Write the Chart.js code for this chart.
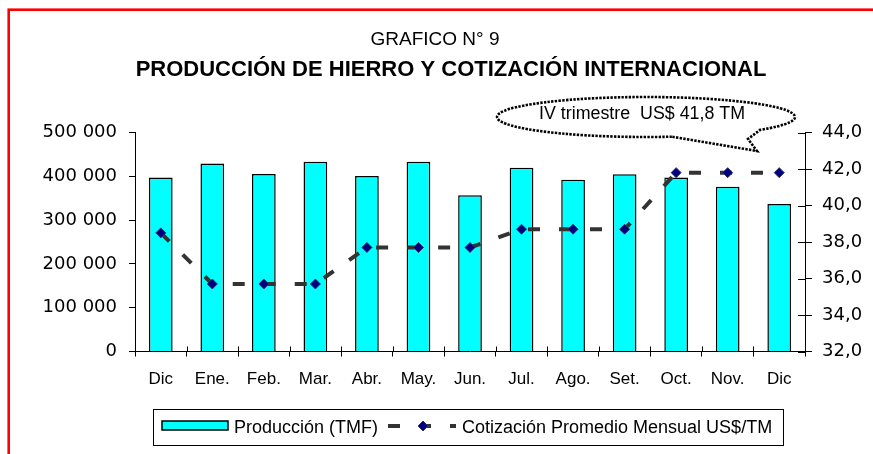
<!DOCTYPE html>
<html><head><meta charset="utf-8">
<script src="https://cdn.jsdelivr.net/npm/chart.js@4.4.1/dist/chart.umd.min.js"></script>
<style>html,body{margin:0;padding:0;background:#fff;overflow:hidden}canvas{display:block}</style>
</head><body>
<canvas id="c" width="873" height="454"></canvas>
<script>
const categories = ["Dic", "Ene.", "Feb.", "Mar.", "Abr.", "May.", "Jun.", "Jul.", "Ago.", "Set.", "Oct.", "Nov.", "Dic"];
const produccion = [397000, 429000, 405000, 433000, 400500, 433000, 356500, 419500, 392000, 404500, 397000, 376000, 336500];
const cotizacion = [38.5, 35.7, 35.7, 35.7, 37.7, 37.7, 37.7, 38.7, 38.7, 38.7, 41.8, 41.8, 41.8];
const leftTickRange = [0, 500000, 100000];
const rightTickRange = [32, 44, 2];
const titleText = "GRAFICO N° 9";
const subtitleText = "PRODUCCIÓN DE HIERRO Y COTIZACIÓN INTERNACIONAL";
const calloutText = "IV trimestre  US$ 41,8 TM";
const seriesNames = ["Producción (TMF)", "Cotización Promedio Mensual US$/TM"];

const SANS = "'Liberation Sans', Arial, sans-serif";

function fmtThousands(v) { return String(v).replace(/\B(?=(\d{3})+(?!\d))/g, ' '); }
function fmtDecimal(v) { return Number(v).toFixed(1).replace('.', ','); }

const decorPlugin = {
  id: 'decor',
  afterDraw(chart) {
    const ctx = chart.ctx;
    const x = chart.scales.x, y1 = chart.scales.y1;
    ctx.save();
    // inner halves of crossing tick marks
    ctx.strokeStyle = '#000'; ctx.lineWidth = 1;
    ctx.beginPath();
    for (let i = 1; i < categories.length; i++) {
      const px = Math.round(x.getPixelForValue(i - 0.5)) + 0.5;
      ctx.moveTo(px, x.top - 5); ctx.lineTo(px, x.top);
    }
    for (let v = rightTickRange[0]; v <= rightTickRange[1]; v += rightTickRange[2]) {
      const py = Math.round(y1.getPixelForValue(v)) + 0.5;
      ctx.moveTo(y1.left - 7, py); ctx.lineTo(y1.left, py);
    }
    ctx.stroke();

    // red frame
    ctx.strokeStyle = '#ff0000'; ctx.lineWidth = 2.6;
    ctx.strokeRect(8.7, 9.7, 1000, 1000);

    // titles
    ctx.fillStyle = '#000'; ctx.textAlign = 'center'; ctx.textBaseline = 'alphabetic';
    ctx.font = "19px " + SANS;
    ctx.fillText(titleText, 435, 45);
    ctx.font = "bold 22px " + SANS;
    ctx.fillText(subtitleText, 451, 76);

    // callout
    const cx = 646, cy = 117, rx = 149, ry = 20;
    const a0 = 80 * Math.PI / 180, a1 = (360 + 40) * Math.PI / 180;
    ctx.beginPath();
    ctx.ellipse(cx, cy, rx, ry, 0, a0, a1, false);
    ctx.lineTo(748, 139);
    ctx.lineTo(757, 151);
    ctx.closePath();
    ctx.fillStyle = '#fff'; ctx.fill();
    ctx.setLineDash([2.4, 1.3]);
    ctx.strokeStyle = '#000'; ctx.lineWidth = 2.6;
    ctx.stroke();
    ctx.setLineDash([]);
    ctx.fillStyle = '#000';
    ctx.font = "18px 'Liberation Sans Narrow', 'Arial Narrow', " + SANS;
    const tw = ctx.measureText(calloutText).width;
    ctx.save();
    ctx.translate(642, 118.5);
    ctx.scale(206 / tw, 1);
    ctx.textAlign = 'center';
    ctx.fillText(calloutText, 0, 0);
    ctx.restore();

    // legend
    ctx.strokeStyle = '#000'; ctx.lineWidth = 1;
    ctx.strokeRect(153.5, 409.5, 630, 36);
    ctx.fillStyle = '#00ffff';
    ctx.fillRect(162, 421, 66, 9);
    ctx.lineWidth = 1.5;
    ctx.strokeRect(162, 421, 66, 9);
    ctx.fillStyle = '#000';
    ctx.font = "18px " + SANS;
    ctx.textAlign = 'left';
    ctx.fillText(seriesNames[0], 234, 433);
    // line sample
    ctx.strokeStyle = '#333333'; ctx.lineWidth = 4;
    ctx.setLineDash([12, 19]);
    ctx.beginPath(); ctx.moveTo(388, 426); ctx.lineTo(456, 426); ctx.stroke();
    ctx.setLineDash([]);
    ctx.beginPath();
    ctx.moveTo(423, 421); ctx.lineTo(428, 426); ctx.lineTo(423, 431); ctx.lineTo(418, 426); ctx.closePath();
    ctx.fillStyle = '#000080'; ctx.fill();
    ctx.strokeStyle = '#333366'; ctx.lineWidth = 1; ctx.stroke();
    ctx.fillStyle = '#000';
    ctx.fillText(seriesNames[1], 462, 433);
    ctx.restore();
  }
};

new Chart(document.getElementById('c'), {
  data: {
    labels: categories,
    datasets: [
      {
        type: 'line', label: seriesNames[1], data: cotizacion, yAxisID: 'y1', order: 1,
        borderColor: '#333333', borderWidth: 4, borderDash: [12, 19], fill: false, tension: 0,
        pointStyle: 'rectRot', pointRadius: 5, pointBackgroundColor: '#000080',
        pointBorderColor: '#333366', pointBorderWidth: 1
      },
      {
        type: 'bar', label: seriesNames[0], data: produccion, yAxisID: 'y', order: 2,
        backgroundColor: '#00ffff', borderColor: '#000', borderWidth: 1.5,
        barPercentage: 0.46, categoryPercentage: 1
      }
    ]
  },
  options: {
    responsive: false, animation: false, devicePixelRatio: 1,
    layout: { padding: { top: 132.5, bottom: 62.5, left: 0, right: 0 } },
    plugins: { legend: { display: false }, title: { display: false }, tooltip: { enabled: false } },
    scales: {
      x: {
        offset: true,
        grid: { offset: true, drawOnChartArea: false, drawTicks: true, tickLength: 5, color: '#000', lineWidth: 1 },
        border: { color: '#000', width: 1 },
        ticks: { color: '#000', font: { family: SANS, size: 17 }, padding: 13, maxRotation: 0, autoSkip: false },
        afterFit: s => { s.height = 40; }
      },
      y: {
        position: 'left', min: leftTickRange[0], max: leftTickRange[1],
        grid: { drawOnChartArea: false, tickLength: 6, color: '#000' },
        border: { color: '#000', width: 1 },
        ticks: { stepSize: leftTickRange[2], color: '#000', font: { family: "'DejaVu Sans'", size: 18 }, padding: 12, callback: v => fmtThousands(v) },
        afterFit: s => { s.width = 135; }
      },
      y1: {
        position: 'right', min: rightTickRange[0], max: rightTickRange[1],
        grid: { drawOnChartArea: false, tickLength: 7, color: '#000' },
        border: { color: '#000', width: 1 },
        ticks: { stepSize: rightTickRange[2], color: '#000', font: { family: "'DejaVu Sans'", size: 18 }, padding: 10, callback: v => fmtDecimal(v) },
        afterFit: s => { s.width = 68; }
      }
    }
  },
  plugins: [decorPlugin]
});
</script>
</body></html>
